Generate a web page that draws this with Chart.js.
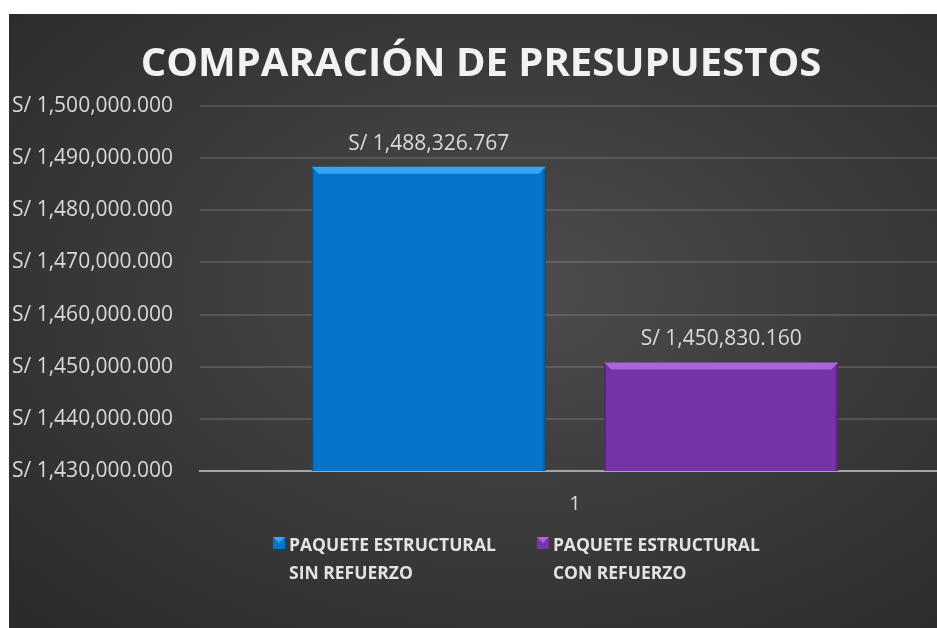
<!DOCTYPE html>
<html>
<head>
<meta charset="utf-8">
<script src="https://cdn.jsdelivr.net/npm/chart.js@4"></script>
<style>
  html, body { margin: 0; padding: 0; background: #ffffff; }
  #wrap {
    position: absolute; left: 9px; top: 14px; width: 928px; height: 614px; overflow: hidden;
    background: radial-gradient(ellipse at 55% 45%, #4d4d4d 0%, #3c3c3c 45%, #2a2a2a 100%);
  }
  canvas { display: block; }
</style>
</head>
<body>
<div id="wrap"><canvas id="chart" width="941" height="614"></canvas></div>
<script>
const categories = ["1"];
const seriesNames = [
  ["PAQUETE ESTRUCTURAL", "SIN REFUERZO"],
  ["PAQUETE ESTRUCTURAL", "CON REFUERZO"]
];
const sinRefuerzo = [1488326.767];
const conRefuerzo = [1450830.160];
const yMin = 1430000, yMax = 1500000, yStep = 10000;

const seriesColors = ["#0674c8", "#7634a8"];
const bevelLight = ["#35a6f2", "#a866d8"];
const bevelDark = ["#04508c", "#4f2274"];
const FONT = "'Open Sans'";

function money(v) 
{
  return "S/ " + v.toLocaleString("en-US", { minimumFractionDigits: 3, maximumFractionDigits: 3 });
}

// bevel look on the bars + value labels above them
const barExtras = {
  id: "barExtras",
  afterDatasetsDraw(chart) 
  {
    const ctx = chart.ctx;
    ctx.save();
    chart.data.datasets.forEach((ds, i) => {
      chart.getDatasetMeta(i).data.forEach((bar, j) => {
        const l = bar.x - bar.width / 2, r = bar.x + bar.width / 2;
        const t = bar.y, b = Math.min(bar.base, chart.chartArea.bottom), e = 7;
        // top bevel
        ctx.fillStyle = bevelLight[i];
        ctx.beginPath();
        ctx.moveTo(l, t); ctx.lineTo(r, t); ctx.lineTo(r - e, t + e); ctx.lineTo(l + e, t + e);
        ctx.closePath(); ctx.fill();
        // side shading
        ctx.fillStyle = bevelDark[i];
        ctx.globalAlpha = 0.5;
        ctx.fillRect(r - 3, t + 3, 3, b - t - 3);
        ctx.fillRect(l, t + 3, 2, b - t - 3);
        ctx.globalAlpha = 1;

        ctx.font = "21px " + FONT;
        ctx.fillStyle = "#d9d9d9";
        ctx.textAlign = "center";
        ctx.textBaseline = "alphabetic";
        ctx.fillText(money(ds.data[j]), bar.x, bar.y - 17);
      });
    });
    ctx.restore();
  }
};

// two-line legend under the axis
const wrapLegend = {
  id: "wrapLegend",
  afterDraw(chart) 
  {
    const ctx = chart.ctx;
    const area = chart.chartArea;
    const startX = area.left + 73, y0 = area.bottom + 80, gap = 41, lh = 28;
    ctx.save();
    ctx.font = "bold 17.5px " + FONT;
    ctx.textBaseline = "alphabetic";
    ctx.textAlign = "left";
    let x = startX;
    seriesNames.forEach((lines, i) => {
      ctx.fillStyle = seriesColors[i];
      ctx.fillRect(x, y0 - 14, 12, 12);
      ctx.fillStyle = bevelLight[i];
      ctx.beginPath();
      ctx.moveTo(x, y0 - 14); ctx.lineTo(x + 12, y0 - 14); ctx.lineTo(x + 6, y0 - 8);
      ctx.closePath(); ctx.fill();
      ctx.fillStyle = "#e3e3e3";
      let w = 0;
      lines.forEach((s, k) => {
        ctx.fillText(s, x + 16, y0 + k * lh);
        w = Math.max(w, ctx.measureText(s).width);
      });
      x += 16 + w + gap;
    });
    ctx.restore();
  }
};

const ctx = document.getElementById("chart").getContext("2d");
new Chart(ctx, {
  type: "bar",
  data: {
    labels: categories,
    datasets: [
      {
        label: seriesNames[0].join(" "),
        data: sinRefuerzo,
        backgroundColor: seriesColors[0],
        borderColor: bevelDark[0],
        borderWidth: 1
      },
      {
        label: seriesNames[1].join(" "),
        data: conRefuerzo,
        backgroundColor: seriesColors[1],
        borderColor: bevelDark[1],
        borderWidth: 1
      }
    ]
  },
  options: 
  {
    responsive: false,
    animation: false,
    layout: { padding: { left: 3, right: 0, top: 0, bottom: 107 } },
    categoryPercentage: 0.78,
    barPercentage: 0.80,
    plugins: {
      title: {
        display: true,
        text: "COMPARACIÓN DE PRESUPUESTOS",
        color: "#f2f2f2",
        font: { family: FONT, size: 40, weight: "bold" },
        padding: { top: 27, bottom: 17 }
      },
      legend: { display: false },
      tooltip: { enabled: false }
    },
    scales: {
      x: {
        grid: { display: false },
        border: { color: "#a6a6a6", width: 2 },
        ticks: { color: "#d9d9d9", font: { family: FONT, size: 20 }, padding: 13 },
        afterFit: s => { s.height = 50; }
      },
      y: {
        min: yMin,
        max: yMax,
        border: { display: false },
        grid: { color: "rgba(255,255,255,0.13)", lineWidth: 2, drawTicks: false },
        ticks: {
          stepSize: yStep,
          color: "#d9d9d9",
          font: { family: FONT, size: 21 },
          crossAlign: "far",
          padding: 20,
          callback: v => money(v)
        },
        afterFit: s => { s.width = 188; }
      }
    }
  },
  plugins: [barExtras, wrapLegend]
});
</script>
</body>
</html>
